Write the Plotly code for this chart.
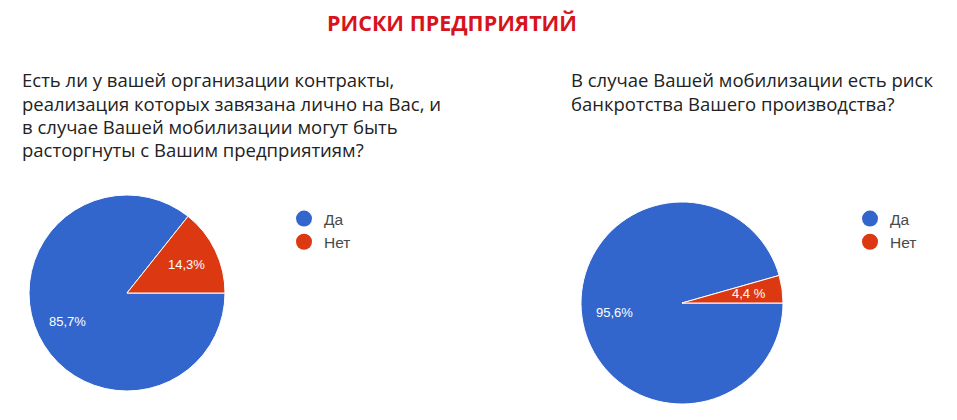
import math
import plotly.graph_objects as go

# ---- data ----
answers = ["Да", "Нет"]
colors = ["#3366cc", "#dc3912"]

q1_values = [85.7, 14.3]
q1_labels = ["85,7%", "14,3%"]
q2_values = [95.6, 4.4]
q2_labels = ["95,6%", "4,4 %"]

title = "РИСКИ ПРЕДПРИЯТИЙ"
q1_lines = ["Есть ли у вашей организации контракты,",
            "реализация которых завязана лично на Вас, и",
            "в случае Вашей мобилизации могут быть",
            "расторгнуты с Вашим предприятиям?"]
q2_lines = ["В случае Вашей мобилизации есть риск",
            "банкротства Вашего производства?"]

# page body has an 8px margin, so the figure is a bit smaller than the window
W, H = 957, 420
FW, FH = W - 16, H - 16


def px(x):
    return (x - 8) / FW


def py(y):
    return 1 - (y - 8) / FH


fig = go.Figure()
annotations = []


def add_pie(values, labels, cx, cy, r, legend):
    fig.add_trace(go.Pie(
        labels=answers,
        values=values,
        textinfo="none",
        marker=dict(colors=colors, line=dict(color="white", width=1)),
        sort=False,
        direction="counterclockwise",
        rotation=90,
        domain=dict(x=[px(cx - r), px(cx + r)], y=[py(cy + r), py(cy - r)]),
        showlegend=False,
        hoverinfo="label+percent",
    ))
    # percent labels like Google Forms: on the slice bisector at ~2/3 radius
    total = sum(values)
    no_angle = 360 * values[1] / total
    mids = [no_angle + 180 * values[0] / total, no_angle / 2]
    for lab, a in zip(labels, mids):
        t = math.radians(a)
        annotations.append(dict(
            text=lab, x=px(cx + 0.67 * r * math.cos(t)),
            y=py(cy - 0.67 * r * math.sin(t)),
            xref="paper", yref="paper", xanchor="center", yanchor="middle",
            showarrow=False,
            font=dict(family="Liberation Sans, Arial", size=13, color="white"),
        ))
    # round legend markers like the original
    for name, c in zip(answers, colors):
        fig.add_trace(go.Scatter(
            x=[None], y=[None], mode="markers", name=name,
            marker=dict(color=c, size=16, symbol="circle"),
            legend=legend, showlegend=True,
        ))


add_pie(q1_values, q1_labels, 127, 293, 98, "legend")
add_pie(q2_values, q2_labels, 682, 303, 101, "legend2")

legend_style = dict(
    font=dict(family="Liberation Sans, Arial", size=15.5, color="#4a4a4a"),
    bgcolor="rgba(0,0,0,0)",
    itemwidth=30,
    xanchor="left",
    yanchor="top",
)

text_font = dict(family="Open Sans", size=18.5, color="#222222")
annotations.append(
    dict(text="<b>" + title + "</b>", x=px(452), y=py(22),
         xref="paper", yref="paper", xanchor="center", yanchor="middle",
         showarrow=False, borderpad=0,
         font=dict(family="Open Sans", size=21.5, color="#d7141c")))
for i, line in enumerate(q1_lines):
    annotations.append(dict(text=line, x=px(20), y=py(80 + 23 * i),
                            xref="paper", yref="paper", xanchor="left",
                            yanchor="middle", showarrow=False, font=text_font))
for i, line in enumerate(q2_lines):
    annotations.append(dict(text=line, x=px(569), y=py(80 + 23 * i),
                            xref="paper", yref="paper", xanchor="left",
                            yanchor="middle", showarrow=False, font=text_font))

fig.update_layout(
    width=FW,
    height=FH,
    margin=dict(l=0, r=0, t=0, b=0),
    paper_bgcolor="white",
    plot_bgcolor="white",
    xaxis=dict(visible=False),
    yaxis=dict(visible=False),
    legend=dict(x=px(284), y=py(202), **legend_style),
    legend2=dict(x=px(850), y=py(202), **legend_style),
    annotations=annotations,
)

fig.write_html("out.html")
